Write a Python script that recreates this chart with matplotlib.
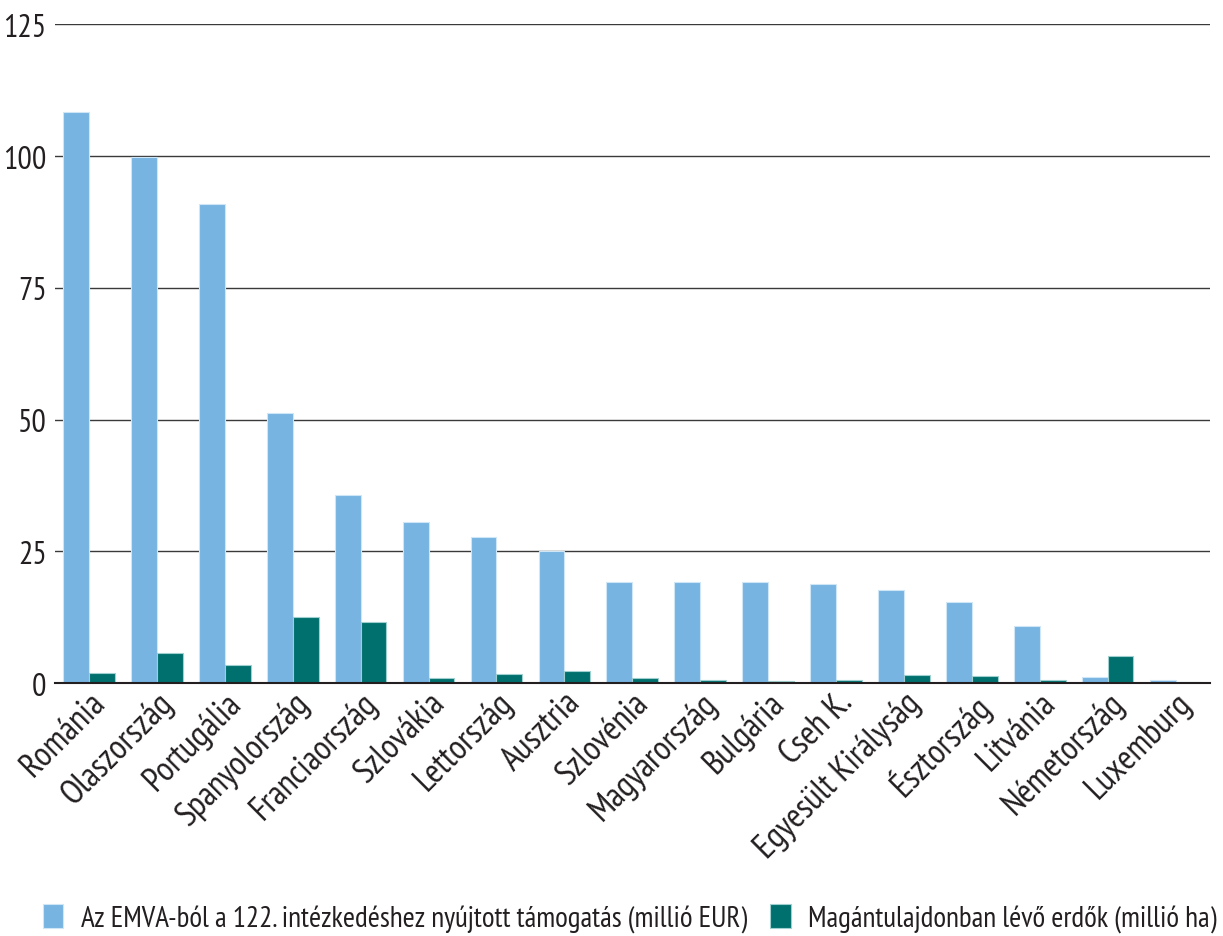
import matplotlib
matplotlib.use("Agg")
import matplotlib.pyplot as plt
import numpy as np
from matplotlib import font_manager

countries = ["Románia", "Olaszország", "Portugália", "Spanyolország", "Franciaország",
             "Szlovákia", "Lettország", "Ausztria", "Szlovénia", "Magyarország",
             "Bulgária", "Cseh K.", "Egyesült Királyság", "Észtország", "Litvánia",
             "Németország", "Luxemburg"]
support = [108.3, 99.8, 90.9, 51.2, 35.7, 30.5, 27.7, 25.0, 19.2, 19.2,
           19.2, 18.8, 17.6, 15.4, 10.8, 1.1, 0.5]
forest = [1.9, 5.7, 3.4, 12.5, 11.6, 0.9, 1.7, 2.3, 0.9, 0.6,
          0.3, 0.6, 1.6, 1.3, 0.6, 5.1, 0.1]
yticks = [0, 25, 50, 75, 100, 125]
label_support = "Az EMVA-ból a 122. intézkedéshez nyújtott támogatás (millió EUR)"
label_forest = "Magántulajdonban lévő erdők (millió ha)"

names = {f.name for f in font_manager.fontManager.ttflist}
fam = "DejaVu Sans"
for cand in ["PT Sans Narrow", "Fira Sans Extra Condensed", "Open Sans Condensed",
             "Roboto Condensed", "Fira Sans Condensed", "Barlow Semi Condensed",
             "Asap Condensed", "Archivo Narrow"]:
    if cand in names:
        fam = cand
        break
plt.rcParams['font.family'] = [fam, 'DejaVu Sans']

fig = plt.figure(figsize=(12.23, 9.37), dpi=100)
ax = fig.add_axes([0.045, 0.270, 0.944, 0.703])

x = np.arange(len(countries))
w = 0.38
ax.bar(x - w/2, support, w, color="#77b4e2", edgecolor="#cfe6f7", linewidth=0.8,
       label=label_support, zorder=3)
ax.bar(x + w/2, forest, w, color="#00706e", edgecolor="#9fd0cf", linewidth=0.8,
       label=label_forest, zorder=3)

ax.set_xlim(-0.5, len(countries) - 0.5)
ax.set_ylim(0, 125)
ax.set_yticks(yticks)
ax.set_yticklabels([str(v) for v in yticks], fontsize=23, color="#231f20")
ax.yaxis.grid(True, color="#3a3a3a", linewidth=1.0, zorder=0)
ax.tick_params(axis='y', length=0, pad=6)
ax.tick_params(axis='x', length=0, pad=2)
for s in ["left", "right", "top"]:
    ax.spines[s].set_visible(False)
ax.spines["bottom"].set_color("#231f20")
ax.spines["bottom"].set_linewidth(1.5)
ax.spines["bottom"].set_zorder(4)

ax.set_xticks(x)
ax.set_xticklabels(countries, rotation=45, ha="right", va="top", rotation_mode="anchor",
                   fontsize=25, color="#231f20")

fig.legend(loc="lower center", bbox_to_anchor=(0.515, -0.024), ncol=2, frameon=False,
           fontsize=21, handlelength=0.7, handleheight=0.9, handletextpad=0.6,
           columnspacing=0.8, labelcolor="#231f20")

fig.savefig("out.png", dpi=100)
